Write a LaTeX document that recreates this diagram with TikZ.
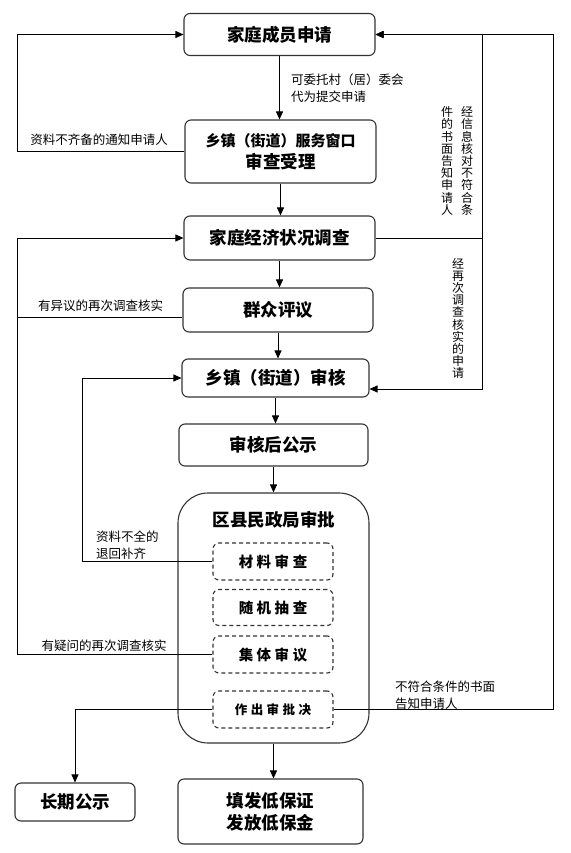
\documentclass[tikz,border=0pt]{standalone}
\usepackage{fontspec}
\setmainfont{Noto Sans CJK SC}
\usetikzlibrary{arrows.meta}
\definecolor{edge}{HTML}{333333}
\newcommand\gap{\kern3.5pt}
\newcommand\smallgap{\kern3.4pt}

\begin{document}
\begin{tikzpicture}[x=1pt, y=-1pt,
  stepbox/.style={rectangle, draw=edge, line width=1.1pt, rounded corners=6pt, minimum width=191pt, minimum height=42pt, align=center, inner sep=0pt, font=\fontsize{17.5}{22}\selectfont\bfseries},
  subbox/.style={rectangle, draw=edge, line width=1.1pt, dash pattern=on 4pt off 3pt, rounded corners=6pt, minimum width=120pt, minimum height=37pt, inner sep=0pt, font=\fontsize{14.5}{16}\selectfont\bfseries},
  note/.style={align=left, inner sep=0pt, font=\fontsize{12.5}{17}\selectfont},
  vnote/.style={align=center, inner sep=0pt, font=\fontsize{12}{12.2}\selectfont},
  flow/.style={line width=0.9pt, -{Triangle[length=8pt,width=7pt]}},
  wire/.style={line width=0.9pt}
]
  \useasboundingbox[fill=white] (0,0) rectangle (570,853);

  % main column
  \node[stepbox] (apply) at (279.5,34.5) {家庭成员申请};
  \node[stepbox, minimum height=63pt] (accept) at (280.5,151.5) {{\fontsize{15}{20}\selectfont 乡镇（街道）服务窗口}\\审查受理};
  \node[stepbox, minimum height=44pt] (survey) at (279.5,238) {家庭经济状况调查};
  \node[stepbox, minimum width=190pt, minimum height=44pt] (vote) at (278,310) {群众评议};
  \node[stepbox, minimum width=187pt, minimum height=38pt] (review) at (275.5,378) {乡镇（街道）审核};
  \node[stepbox, minimum width=189pt] (publicize) at (273.5,445) {审核后公示};

  % county approval
  \node[stepbox, minimum height=250pt, rounded corners=30pt] (approve) at (273.5,618) {};
  \node[font=\fontsize{17.5}{20}\selectfont\bfseries] (approvetitle) at (274,520) {区县民政局审批};
  \node[subbox] (material) at (273,561.5) {材\gap 料\gap 审\gap 查};
  \node[subbox, minimum height=36pt] (random) at (273,607.5) {随\gap 机\gap 抽\gap 查};
  \node[subbox] (collective) at (273,654.5) {集\gap 体\gap 审\gap 议};
  \node[subbox, font=\fontsize{12.5}{14}\selectfont\bfseries] (decide) at (273,709.5) {作\smallgap 出\smallgap 审\smallgap 批\smallgap 决};

  % results
  \node[stepbox, minimum width=120pt, minimum height=38pt] (longterm) at (75,802) {长期公示};
  \node[stepbox, minimum width=185pt, minimum height=65pt] (issue) at (270.5,811.5) {填发低保证\\发放低保金};

  % rails
  \coordinate (leftrail) at (17,0);
  \coordinate (midrail) at (82,0);
  \coordinate (rightrail) at (482,0);
  \coordinate (outerrail) at (553,0);

  % downward flow
  \draw[flow] (apply.south) -- (apply.south |- accept.north);
  \draw[flow] (accept.south) -- (accept.south |- survey.north);
  \draw[flow] (survey.south) -- (survey.south |- vote.north);
  \draw[flow] (vote.south) -- (vote.south |- review.north);
  \draw[flow] (review.south) -- (review.south |- publicize.north);
  \draw[flow] (publicize.south) -- (publicize.south |- approve.north);
  \draw[flow] (approve.south) -- (approve.south |- issue.north);
  \draw[flow] (decide.west) -| (longterm.north);

  % returns on the left
  \draw[flow] (accept.west) -- (accept.west -| leftrail) |- (apply.west);
  \draw[wire] ([yshift=-7pt]vote.west) -- ([yshift=-7pt]vote.west -| leftrail);
  \draw[flow] (collective.west) -- (collective.west -| leftrail) |- (survey.west);
  \draw[flow] (material.west) -- (material.west -| midrail) |- (review.west);

  % returns on the right
  \draw[flow] (survey.east) -- (survey.east -| rightrail) |- (apply.east);
  \draw[flow] (survey.east -| rightrail) |- ([yshift=-11pt]review.east);
  \draw[flow] (decide.east) -- (decide.east -| outerrail) |- (apply.east);

  % labels
  \node[note, anchor=west] (entrustnote) at (291,88.5) {可委托村（居）委会\\代为提交申请};
  \node[note] (incompletenote) at (99,140) {资料不齐备的通知申请人};
  \node[note] (disputenote) at (100.5,306) {有异议的再次调查核实};
  \node[note, anchor=west] (returnnote) at (96,545.5) {资料不全的\\退回补齐};
  \node[note] (doubtnote) at (104,646) {有疑问的再次调查核实};
  \node[note, anchor=west] (rejectnote) at (395,695) {不符合条件的书面\\告知申请人};
  \node[vnote] (checkcola) at (467,161) {经\\信\\息\\核\\对\\不\\符\\合\\条};
  \node[vnote] (checkcolb) at (447,161) {件\\的\\书\\面\\告\\知\\申\\请\\人};
  \node[vnote] (recheckcol) at (458,318.5) {经\\再\\次\\调\\查\\核\\实\\的\\申\\请};
\end{tikzpicture}
\end{document}
